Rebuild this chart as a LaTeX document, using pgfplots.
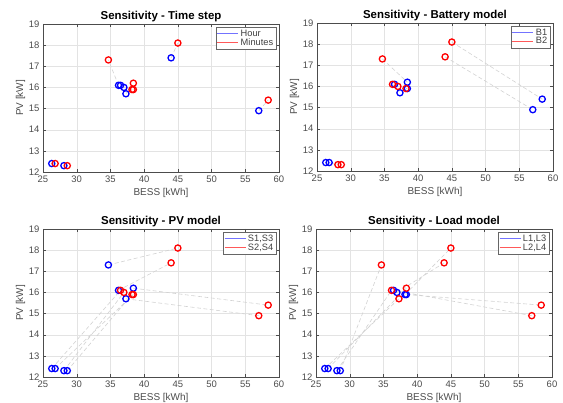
\documentclass[border=0pt]{standalone}
\usepackage{fontspec}
\setmainfont{Liberation Sans}
\usepackage{pgfplots}
\pgfplotsset{compat=1.18}
\usepackage{pgfplotstable}

% 16 runs: BESS, PV, and the flag of each sensitivity (time, battery, PV, load)
\pgfplotstableread{
id x    y    t b p l
1  26.3 12.4 0 0 0 0
2  26.8 12.4 1 0 0 0
3  28.1 12.3 0 1 0 0
4  28.6 12.3 1 1 0 0
5  34.7 17.3 1 1 0 1
6  36.2 16.1 0 1 0 1
7  36.5 16.1 0 0 1 0
8  37.0 16.0 0 1 1 0
9  37.3 15.7 0 0 0 1
10 38.2 15.9 1 1 1 0
11 38.4 15.9 1 0 1 0
12 38.4 16.2 1 0 0 1
13 44.0 17.4 0 1 1 1
14 45.0 18.1 1 1 1 1
15 57.0 14.9 0 0 1 1
16 58.4 15.4 1 0 1 1
}\pts

\pgfplotsset{
  sens/.style={
    scale only axis, width=236bp, height=148bp, anchor=south west,
    xmin=25, xmax=60, ymin=12, ymax=19,
    xtick={25,30,...,60}, ytick={12,13,...,19},
    grid=major, major grid style={gray!22, line width=0.4pt},
    axis line style={black!70, line width=0.4pt},
    tick style={black!70, line width=0.4pt}, tick align=inside, major tick length=3bp,
    ticklabel style={font=\fontsize{9.5}{10}\selectfont, text=black!70},
    /pgf/number format/assume math mode=true,
    label style={font=\fontsize{10}{11}\selectfont, text=black!70},
    title style={font=\bfseries\fontsize{11.5}{13}\selectfont, yshift=-7bp},
    xlabel={BESS [kWh]}, ylabel={PV [kW]},
    xlabel style={yshift=1bp}, ylabel style={yshift=-3bp},
    legend style={at={(0.988,0.982)}, anchor=north east,
      font=\fontsize{9.3}{10}\selectfont, text=black!75, draw=black!60,
      line width=0.4pt, inner sep=0.8pt, row sep=-3pt},
    legend cell align=left,
    legend image code/.code={\draw[#1] (0bp,0bp) -- (21bp,0bp);},
  },
  pair/.style={forget plot, gray!35, dash pattern=on 4bp off 2.5bp, line width=0.6pt, unbounded coords=jump},
  mk/.style={forget plot, only marks, mark=o, mark size=3.1bp, mark options={line width=1.3pt}},
}

\begin{document}
\begin{tikzpicture}
\path[use as bounding box] (0,0) rectangle (563bp,403bp);

% ---- time step
\begin{axis}[sens, at={(43bp,231bp)}, title={Sensitivity - Time step}]
\addplot[pair] coordinates {
 (26.3,12.4) (26.8,12.4) (30,nan) (28.1,12.3) (28.6,12.3) (30,nan)
 (36.2,16.1) (34.7,17.3) (30,nan) (36.5,16.1) (38.4,15.9) (30,nan)
 (37.0,16.0) (38.2,15.9) (30,nan) (37.3,15.7) (38.4,16.2) (30,nan)
 (44.0,17.4) (45.0,18.1) (30,nan) (57.0,14.9) (58.4,15.4)};
\addplot[mk, blue, restrict expr to domain={\thisrow{t}}{-0.5:0.5}] table[x=x, y=y] {\pts};
\addplot[mk, red, restrict expr to domain={\thisrow{t}}{0.5:1.5}] table[x=x, y=y] {\pts};
\addlegendimage{blue!55, line width=0.8pt}\addlegendentry{Hour}
\addlegendimage{red!65, line width=0.8pt}\addlegendentry{Minutes}
\end{axis}

% ---- battery model
\begin{axis}[sens, at={(317bp,232bp)}, title={Sensitivity - Battery model}]
\addplot[pair] coordinates {
 (26.3,12.4) (28.1,12.3) (30,nan) (26.8,12.4) (28.6,12.3) (30,nan)
 (34.7,17.3) (38.4,16.2) (30,nan) (36.2,16.1) (37.3,15.7) (30,nan)
 (36.5,16.1) (37.0,16.0) (30,nan) (38.2,15.9) (38.4,15.9) (30,nan)
 (44.0,17.4) (57.0,14.9) (30,nan) (45.0,18.1) (58.4,15.4)};
\addplot[mk, blue, restrict expr to domain={\thisrow{b}}{-0.5:0.5}] table[x=x, y=y] {\pts};
\addplot[mk, red, restrict expr to domain={\thisrow{b}}{0.5:1.5}] table[x=x, y=y] {\pts};
\addlegendimage{blue!55, line width=0.8pt}\addlegendentry{B1}
\addlegendimage{red!65, line width=0.8pt}\addlegendentry{B2}
\end{axis}

% ---- PV model
\begin{axis}[sens, at={(43bp,26bp)}, title={Sensitivity - PV model}]
\addplot[pair] coordinates {
 (26.3,12.4) (36.5,16.1) (30,nan) (26.8,12.4) (38.4,15.9) (30,nan)
 (28.1,12.3) (37.0,16.0) (30,nan) (28.6,12.3) (38.2,15.9) (30,nan)
 (34.7,17.3) (45.0,18.1) (30,nan) (36.2,16.1) (44.0,17.4) (30,nan)
 (37.3,15.7) (57.0,14.9) (30,nan) (38.4,16.2) (58.4,15.4)};
\addplot[mk, blue, restrict expr to domain={\thisrow{p}}{-0.5:0.5}] table[x=x, y=y] {\pts};
\addplot[mk, red, restrict expr to domain={\thisrow{p}}{0.5:1.5}] table[x=x, y=y] {\pts};
\addlegendimage{blue!55, line width=0.8pt}\addlegendentry{S1,S3}
\addlegendimage{red!65, line width=0.8pt}\addlegendentry{S2,S4}
\end{axis}

% ---- load model
\begin{axis}[sens, at={(316bp,26bp)}, title={Sensitivity - Load model}]
\addplot[pair] coordinates {
 (26.3,12.4) (37.3,15.7) (30,nan) (26.8,12.4) (38.4,16.2) (30,nan)
 (28.1,12.3) (36.2,16.1) (30,nan) (28.6,12.3) (34.7,17.3) (30,nan)
 (36.5,16.1) (57.0,14.9) (30,nan) (37.0,16.0) (44.0,17.4) (30,nan)
 (38.2,15.9) (45.0,18.1) (30,nan) (38.4,15.9) (58.4,15.4)};
\addplot[mk, blue, restrict expr to domain={\thisrow{l}}{-0.5:0.5}] table[x=x, y=y] {\pts};
\addplot[mk, red, restrict expr to domain={\thisrow{l}}{0.5:1.5}] table[x=x, y=y] {\pts};
\addlegendimage{blue!55, line width=0.8pt}\addlegendentry{L1,L3}
\addlegendimage{red!65, line width=0.8pt}\addlegendentry{L2,L4}
\end{axis}
\end{tikzpicture}
\end{document}
